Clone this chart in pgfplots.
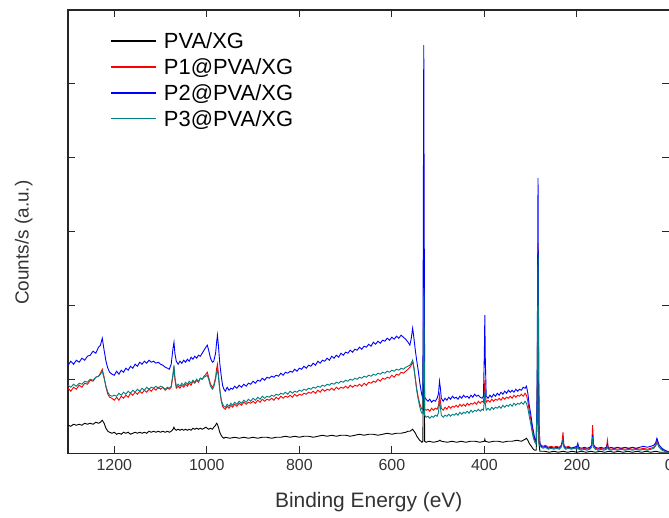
\documentclass[border=0pt]{standalone}
\usepackage{pgfplots}
\pgfplotsset{compat=1.18}
\usepackage{fontspec}
\setmainfont{Liberation Sans}
\definecolor{tealc}{RGB}{0,128,128}

\begin{document}
\begin{tikzpicture}
\path[use as bounding box] (-68bp,-64bp) rectangle (600.6bp,453bp);
\begin{axis}[
    at={(0,0)}, anchor=south west,
    scale only axis, width=601bp, height=443bp,
    x dir=reverse, xmin=0, xmax=1300, ymin=0, ymax=443,
    xtick={0,200,...,1200}, ytick={74,148,222,296,370}, yticklabels={},
    tick align=inside, major tick length=7bp,
    axis line style={line width=1.2bp, black!85},
    every tick/.style={line width=1bp, black!85},
    ticklabel style={font=\fontsize{16}{19}\selectfont, text=black!80},
    xticklabel style={yshift=-3bp},
    /pgf/number format/assume math mode=true,
    /pgf/number format/1000 sep={},
    xlabel={Binding Energy (eV)}, ylabel={Counts/s (a.u.)},
    every axis x label/.style={at={(axis description cs:0.5,0)}, yshift=-49bp, anchor=center,
        font=\fontsize{21}{24}\selectfont, text=black!80},
    every axis y label/.style={at={(axis description cs:-0.0735,0.475)}, rotate=90, anchor=center,
        font=\fontsize{19}{22}\selectfont, text=black!80},
    legend style={draw=none, fill=none, at={(axis description cs:0.065,0.958)}, anchor=north west,
        font=\fontsize{22}{25}\selectfont, row sep=4.5bp,
        /tikz/every odd column/.append style={column sep=5bp}},
    legend cell align=left,
    legend image code/.code={\draw[#1, line width=1.6bp, yshift=0.5bp] (0bp,0bp) -- (45bp,0bp);},
    every axis plot/.append style={line width=0.9bp},
]
% PVA/XG
\addplot[black] coordinates {
(1300,28)(1294,27)(1288,29)(1282,28)(1276,29)(1270,28)(1264,30)(1258,29)(1252,30)(1246,29)(1240,31)(1234,30)(1230,31)(1226,33)(1222,30)(1218,25)(1214,22)(1210,21)(1205,20)(1200,21)(1195,19)(1190,20)(1185,19)(1180,21)(1175,20)(1170,21)(1165,19)(1160,20)(1155,21)(1150,20)(1145,21)(1140,20)(1135,21)(1130,20)(1125,22)(1120,21)(1115,22)(1110,21)(1105,22)(1100,21)(1095,22)(1090,21)(1085,22)(1081,21)(1077,22)(1073,24)(1071,26)(1069,24)(1066,23)(1062,24)(1058,23)(1054,24)(1050,23)(1046,24)(1042,23)(1038,24)(1034,23)(1030,25)(1026,24)(1022,25)(1018,24)(1014,25)(1010,24)(1006,25)(1002,26)(999,25)(996,24)(992,25)(988,24)(985,26)(981,28)(979,30)(977,29)(975,26)(972,21)(969,18)(966,16)(963,15)(960,16)(950,15)(940,16)(930,15)(920,16)(910,15)(900,16)(890,15)(880,16)(870,16)(860,15)(850,16)(840,16)(830,17)(820,16)(810,17)(800,16)(790,17)(780,17)(770,16)(760,17)(750,18)(740,17)(730,18)(720,17)(710,18)(700,18)(690,17)(680,18)(670,19)(660,18)(650,19)(640,19)(630,18)(620,19)(610,20)(600,19)(590,20)(580,20)(570,21)(565,22)(561,22)(558,23)(555,24)(552,22)(549,20)(546,17)(543,15)(540,13)(537,12)(535,11)(533,12)(531,130)(529,12)(526,11)(520,12)(510,11)(500,12)(496,13)(493,12)(480,11)(470,12)(460,11)(450,12)(440,11)(430,12)(420,12)(410,11)(400,12)(399,14)(398,12)(390,11)(380,12)(370,12)(360,11)(350,12)(340,12)(330,13)(320,12)(312,14)(309,15)(306,13)(303,10)(300,8)(297,6)(294,4)(291,3)(288,3)(286,30)(284,120)(282,10)(280,2)(270,2)(260,1)(250,2)(240,1)(230,2)(220,1)(210,2)(200,1)(190,2)(180,1)(170,2)(160,1)(150,2)(140,1)(130,2)(120,1)(110,2)(100,1)(90,2)(80,1)(70,2)(60,1)(50,2)(40,1)(30,2)(20,1)(10,1)(0,1)
};
\addlegendentry{PVA/XG}
% P1@PVA/XG
\addplot[red] coordinates {
(1300,65)(1294,62)(1288,66)(1282,64)(1276,68)(1270,66)(1264,70)(1258,69)(1252,73)(1246,72)(1240,76)(1234,77)(1230,80)(1226,84)(1222,76)(1218,66)(1214,59)(1210,56)(1205,55)(1200,53)(1195,56)(1190,53)(1185,57)(1180,55)(1175,58)(1170,56)(1165,60)(1160,58)(1155,61)(1150,59)(1145,62)(1140,60)(1135,63)(1130,61)(1125,64)(1120,62)(1115,65)(1110,63)(1105,66)(1100,64)(1095,66)(1090,63)(1085,65)(1081,64)(1077,66)(1073,78)(1071,86)(1069,74)(1066,65)(1062,67)(1058,65)(1054,68)(1050,66)(1046,69)(1042,67)(1038,70)(1034,68)(1030,72)(1026,70)(1022,73)(1018,71)(1014,75)(1010,74)(1006,77)(1002,79)(999,81)(996,76)(992,69)(988,66)(985,68)(981,76)(979,84)(977,89)(975,80)(972,64)(969,53)(966,47)(963,45)(960,44)(956,47)(952,45)(948,48)(944,46)(940,49)(935,47)(930,50)(925,48)(920,51)(915,49)(910,51)(905,50)(900,52)(895,50)(890,53)(885,51)(880,54)(875,52)(870,54)(865,53)(860,55)(855,53)(850,56)(845,54)(840,57)(835,55)(830,57)(825,56)(820,58)(815,56)(810,59)(805,57)(800,59)(795,58)(790,60)(785,59)(780,61)(775,60)(770,62)(765,60)(760,63)(755,61)(750,64)(745,62)(740,64)(735,63)(730,65)(725,63)(720,66)(715,64)(710,66)(705,65)(700,67)(695,65)(690,68)(685,66)(680,68)(675,67)(670,69)(665,67)(660,70)(655,68)(650,71)(645,70)(640,72)(635,71)(630,74)(625,72)(620,75)(615,74)(610,76)(605,75)(600,78)(595,76)(590,79)(585,78)(580,81)(575,80)(570,82)(565,84)(561,86)(558,88)(555,92)(552,84)(549,74)(546,64)(543,56)(540,50)(537,46)(535,44)(533,45)(531,175)(529,44)(526,43)(522,44)(518,42)(514,45)(510,43)(506,45)(502,44)(499,48)(497,58)(495,52)(493,45)(489,43)(485,46)(481,44)(477,47)(473,45)(469,47)(465,46)(461,48)(457,46)(453,49)(449,47)(445,49)(441,47)(437,50)(433,48)(429,50)(425,49)(421,51)(417,49)(413,52)(409,50)(405,52)(402,51)(400,62)(399,73)(398,60)(396,51)(392,53)(388,51)(384,54)(380,52)(376,54)(372,53)(368,55)(364,53)(360,56)(356,54)(352,56)(348,55)(344,57)(340,55)(336,58)(332,56)(328,58)(324,57)(320,59)(316,57)(312,60)(309,58)(306,52)(303,42)(300,35)(297,26)(294,18)(291,13)(288,11)(286,50)(284,210)(282,28)(280,10)(277,8)(273,7)(268,8)(262,6)(256,7)(250,6)(244,7)(238,6)(234,8)(232,12)(230,21)(228,8)(224,6)(218,7)(212,5)(206,6)(200,5)(198,8)(196,5)(190,4)(184,5)(178,4)(172,5)(168,8)(166,28)(164,9)(160,5)(154,4)(148,5)(142,4)(136,5)(134,13)(132,5)(126,4)(120,5)(112,4)(104,5)(96,4)(88,5)(80,4)(72,5)(64,4)(56,5)(48,4)(40,5)(34,6)(30,8)(27,12)(26,13)(24,8)(22,6)(16,4)(10,3)(5,2)(0,1)
};
\addlegendentry{P1@PVA/XG}
% P2@PVA/XG
\addplot[blue] coordinates {
(1300,88)(1294,92)(1288,89)(1282,93)(1276,91)(1270,95)(1264,93)(1258,97)(1252,98)(1246,102)(1240,100)(1234,106)(1230,108)(1226,115)(1222,103)(1218,92)(1214,85)(1210,81)(1205,79)(1200,78)(1195,82)(1190,79)(1185,83)(1180,81)(1175,85)(1170,83)(1165,87)(1160,85)(1155,89)(1150,87)(1145,91)(1140,89)(1135,92)(1130,90)(1125,93)(1120,91)(1115,92)(1110,90)(1105,91)(1100,89)(1095,88)(1090,86)(1085,85)(1081,84)(1077,89)(1073,105)(1071,111)(1069,100)(1066,92)(1062,89)(1058,92)(1054,90)(1050,93)(1046,91)(1042,94)(1038,92)(1034,96)(1030,94)(1026,97)(1022,95)(1018,98)(1014,97)(1010,100)(1006,103)(1002,106)(999,108)(996,103)(992,95)(988,91)(985,92)(981,100)(979,110)(977,118)(975,108)(972,90)(969,78)(966,68)(963,64)(960,62)(956,66)(952,63)(948,65)(944,64)(940,67)(935,65)(930,68)(925,66)(920,69)(915,67)(910,70)(905,69)(900,72)(895,70)(890,73)(885,72)(880,75)(875,73)(870,76)(865,75)(860,77)(855,76)(850,78)(845,77)(840,80)(835,78)(830,81)(825,80)(820,82)(815,81)(810,84)(805,82)(800,85)(795,84)(790,87)(785,85)(780,88)(775,87)(770,90)(765,88)(760,92)(755,90)(750,93)(745,92)(740,95)(735,93)(730,97)(725,95)(720,98)(715,96)(710,100)(705,98)(700,101)(695,100)(690,103)(685,101)(680,104)(675,103)(670,106)(665,104)(660,107)(655,106)(650,109)(645,107)(640,111)(635,109)(630,112)(625,110)(620,113)(615,112)(610,115)(605,113)(600,116)(595,114)(590,117)(585,115)(580,118)(575,116)(570,114)(565,111)(561,108)(558,115)(555,125)(552,114)(549,102)(546,92)(543,83)(540,72)(537,63)(535,58)(533,55)(531,408)(529,56)(526,54)(522,52)(518,54)(514,51)(510,53)(506,52)(502,55)(499,60)(497,72)(495,65)(493,55)(489,52)(485,55)(481,53)(477,56)(473,54)(469,57)(465,55)(461,56)(457,54)(453,57)(449,55)(445,58)(441,56)(437,57)(433,55)(429,58)(425,56)(421,59)(417,57)(413,58)(409,56)(405,55)(402,57)(400,100)(399,138)(398,95)(396,57)(392,55)(388,58)(384,56)(380,59)(376,57)(372,60)(368,58)(364,61)(360,59)(356,62)(352,60)(348,63)(344,61)(340,63)(336,61)(332,64)(328,62)(324,64)(320,63)(316,66)(312,65)(309,67)(306,60)(303,48)(300,40)(297,30)(294,22)(291,15)(288,12)(286,60)(284,275)(282,30)(280,10)(277,7)(273,6)(268,7)(262,5)(256,6)(250,5)(244,6)(238,5)(234,7)(232,10)(230,13)(228,7)(224,5)(218,6)(212,5)(206,6)(200,7)(198,10)(196,6)(190,5)(184,6)(178,5)(172,6)(168,8)(166,18)(164,8)(160,6)(154,5)(148,6)(142,5)(136,6)(134,9)(132,5)(126,6)(120,5)(112,6)(104,5)(96,6)(88,5)(80,6)(72,5)(64,6)(56,7)(48,6)(40,7)(34,8)(30,10)(27,15)(25,12)(22,8)(16,5)(10,3)(5,2)(0,1)
};
\addlegendentry{P2@PVA/XG}
% P3@PVA/XG
\addplot[tealc] coordinates {
(1300,68)(1294,66)(1288,69)(1282,67)(1276,70)(1270,69)(1264,72)(1258,71)(1252,74)(1246,73)(1240,76)(1234,77)(1230,79)(1226,82)(1222,75)(1218,67)(1214,61)(1210,58)(1205,57)(1200,58)(1195,57)(1190,60)(1185,58)(1180,61)(1175,59)(1170,62)(1165,60)(1160,63)(1155,61)(1150,64)(1145,62)(1140,65)(1135,63)(1130,66)(1125,64)(1120,66)(1115,65)(1110,67)(1105,65)(1100,67)(1095,66)(1090,64)(1085,66)(1081,65)(1077,67)(1073,80)(1071,88)(1069,76)(1066,67)(1062,69)(1058,67)(1054,70)(1050,68)(1046,71)(1042,69)(1038,72)(1034,70)(1030,73)(1026,71)(1022,74)(1018,72)(1014,75)(1010,74)(1006,76)(1002,77)(999,78)(996,74)(992,67)(988,64)(985,66)(981,74)(979,80)(977,84)(975,77)(972,63)(969,54)(966,49)(963,47)(960,46)(956,49)(952,47)(948,50)(944,48)(940,51)(935,49)(930,52)(925,50)(920,53)(915,51)(910,54)(905,52)(900,55)(895,53)(890,56)(885,54)(880,57)(875,55)(870,57)(865,56)(860,58)(855,57)(850,59)(845,58)(840,60)(835,59)(830,61)(825,59)(820,62)(815,60)(810,62)(805,61)(800,63)(795,62)(790,64)(785,63)(780,65)(775,64)(770,66)(765,65)(760,67)(755,66)(750,68)(745,67)(740,69)(735,68)(730,70)(725,69)(720,71)(715,70)(710,72)(705,71)(700,73)(695,72)(690,74)(685,73)(680,75)(675,74)(670,76)(665,75)(660,77)(655,76)(650,78)(645,77)(640,79)(635,78)(630,80)(625,79)(620,81)(615,80)(610,82)(605,81)(600,83)(595,82)(590,84)(585,83)(580,85)(575,84)(570,86)(565,87)(561,88)(558,90)(555,93)(552,85)(549,73)(546,62)(543,54)(540,47)(537,42)(535,40)(533,41)(531,165)(529,38)(526,36)(522,37)(518,35)(514,37)(510,36)(506,38)(502,37)(499,41)(497,53)(495,46)(493,38)(489,36)(485,38)(481,37)(477,39)(473,37)(469,39)(465,38)(461,40)(457,38)(453,41)(449,39)(445,41)(441,40)(437,42)(433,40)(429,43)(425,41)(421,43)(417,42)(413,44)(409,42)(405,44)(402,43)(400,52)(399,62)(398,50)(396,43)(392,45)(388,43)(384,46)(380,44)(376,46)(372,45)(368,47)(364,45)(360,48)(356,46)(352,48)(348,47)(344,49)(340,47)(336,50)(332,48)(328,50)(324,49)(320,51)(316,49)(312,52)(309,50)(306,45)(303,37)(300,30)(297,22)(294,15)(291,11)(288,9)(286,48)(284,200)(282,26)(280,8)(277,6)(273,5)(268,6)(262,4)(256,5)(250,4)(244,5)(238,4)(234,6)(232,9)(230,13)(228,6)(224,4)(218,5)(212,4)(206,5)(200,4)(198,7)(196,4)(190,3)(184,4)(178,3)(172,4)(168,6)(166,16)(164,6)(160,4)(154,3)(148,4)(142,3)(136,4)(134,7)(132,4)(126,3)(120,4)(112,3)(104,4)(96,3)(88,4)(80,3)(72,4)(64,3)(56,4)(48,3)(40,4)(34,5)(30,7)(27,10)(25,9)(22,6)(16,3)(10,2)(5,1)(0,1)
};
\addlegendentry{P3@PVA/XG}
\end{axis}
\end{tikzpicture}
\end{document}
